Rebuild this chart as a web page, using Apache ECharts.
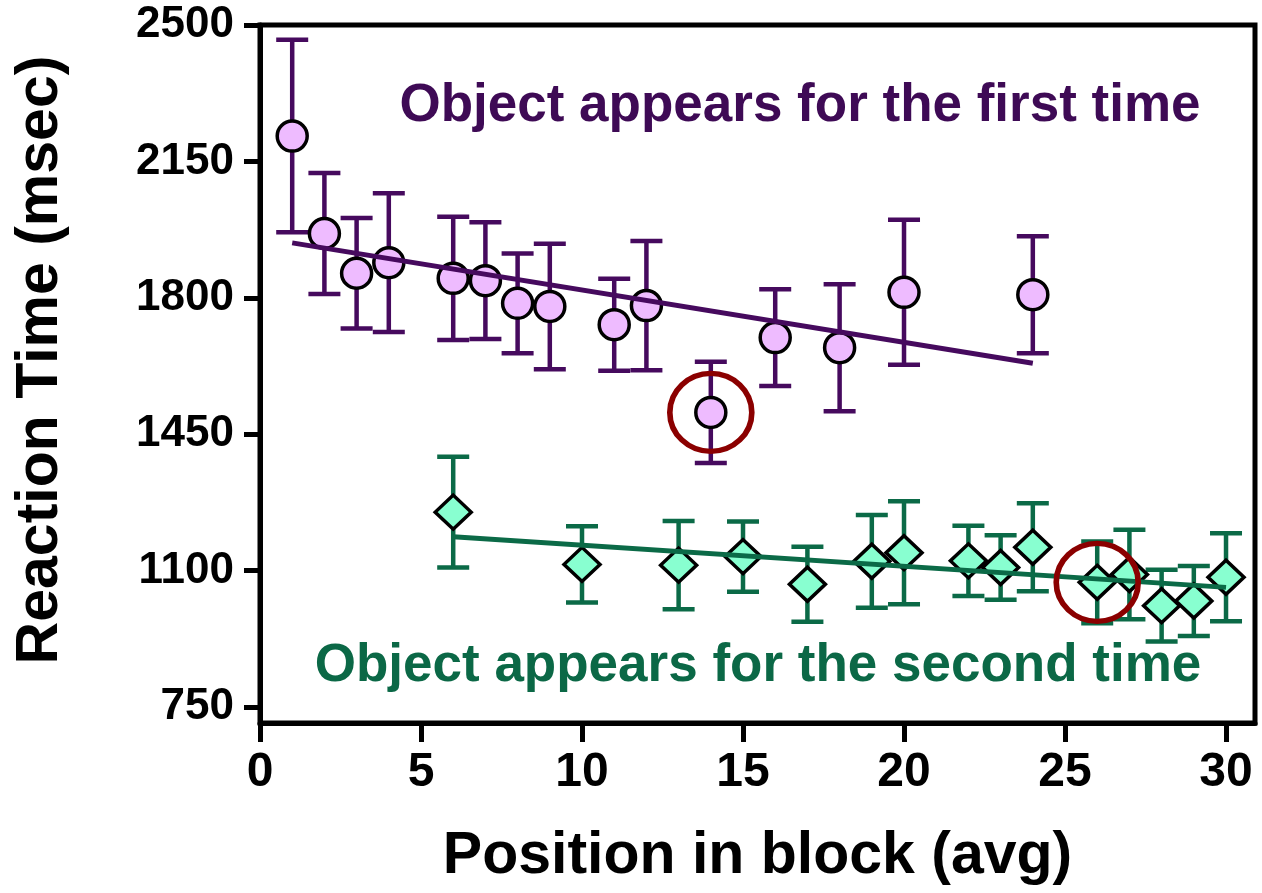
<!DOCTYPE html>
<html><head><meta charset="utf-8">
<script src="https://cdn.jsdelivr.net/npm/echarts@6/dist/echarts.min.js"></script>
<style>html,body{margin:0;padding:0;background:#fff}#c{width:1262px;height:893px}</style>
</head><body><div id="c"></div>
<script>
// First appearance (purple circles)
const firstX    = [1, 2, 3, 4, 6, 7, 8, 9, 11, 12, 14, 16, 18, 20, 24];
const firstMean = [2215, 1965, 1863, 1890, 1850, 1844, 1786, 1778, 1731, 1780, 1506, 1698, 1672, 1814, 1808];
const firstSem  = [247, 155, 142, 178, 158, 150, 128, 161, 118, 166, 130, 124, 163, 186, 150];
const firstTrendX = [1, 24];
const firstTrendY = [1941, 1632];

// Second appearance (green diamonds)
const secondX    = [6, 10, 13, 15, 17, 19, 20, 22, 23, 24, 26, 27, 28, 29, 30];
const secondMean = [1250, 1116, 1114, 1136, 1065, 1124, 1146, 1125, 1108, 1160, 1070, 1090, 1010, 1022, 1083];
const secondSem  = [142, 98, 113, 90, 96, 119, 132, 90, 83, 113, 105, 115, 92, 90, 113];
const secondTrendX = [6, 30];
const secondTrendY = [1187, 1057];

// Highlighted (circled) points
const circledFirstX = [14];
const circledSecondX = [26];

const xTicks = [0, 5, 10, 15, 20, 25, 30];
const yTicks = [750, 1100, 1450, 1800, 2150, 2500];

const labelFirst = 'Object appears for the first time';
const labelSecond = 'Object appears for the second time';
const xName = 'Position in block (avg)';
const yName = 'Reaction Time (msec)';

const FONT = '"Liberation Sans", Arial, Helvetica, sans-serif';
const PURPLE = '#460a5e', PURPLE_FILL = '#eebbff';
const GREEN = '#0b6a47', GREEN_FILL = '#88ffd0';
const RED = '#8b0000';

function pairs(xs, ys) { return xs.map((x, i) => [x, ys[i]]); }
function pick(xs, ys, sel) { return sel.map(s => [s, ys[xs.indexOf(s)]]); }

function errorSeries(xs, means, sems, color) {
  return {
    type: 'custom', z: 1, silent: true,
    data: xs.map((x, i) => [x, means[i] - sems[i], means[i] + sems[i]]),
    encode: { x: 0, y: [1, 2] },
    renderItem(params, api) {
      const x = api.value(0);
      const lo = api.coord([x, api.value(1)]);
      const hi = api.coord([x, api.value(2)]);
      const hw = 16;
      const style = { stroke: color, lineWidth: 4.5 };
      return { type: 'group', children: [
        { type: 'line', shape: { x1: lo[0], y1: lo[1], x2: hi[0], y2: hi[1] }, style },
        { type: 'line', shape: { x1: lo[0] - hw, y1: lo[1], x2: lo[0] + hw, y2: lo[1] }, style },
        { type: 'line', shape: { x1: hi[0] - hw, y1: hi[1], x2: hi[0] + hw, y2: hi[1] }, style }
      ]};
    }
  };
}

const chart = echarts.init(document.getElementById('c'), null, { renderer: 'canvas' });
chart.setOption({
  animation: false,
  backgroundColor: '#fff',
  grid: { left: 260, right: 7, top: 25, bottom: 170, show: true, borderColor: '#000', borderWidth: 5, backgroundColor: 'transparent' },
  xAxis: {
    type: 'value', min: 0, max: 30.9,
    axisLine: { show: true, onZero: false, lineStyle: { color: '#000', width: 5 } },
    axisTick: { show: true, length: 19, lineStyle: { color: '#000', width: 5 }, customValues: xTicks },
    axisLabel: { customValues: xTicks, fontSize: 48, fontWeight: 'bold', color: '#000', fontFamily: FONT, margin: 26,
      formatter: v => String(v) },
    splitLine: { show: false },
    name: xName, nameLocation: 'middle', nameGap: 104,
    nameTextStyle: { fontSize: 59, fontWeight: 'bold', color: '#000', fontFamily: FONT }
  },
  yAxis: {
    type: 'value', min: 709, max: 2500,
    axisLine: { show: true, onZero: false, lineStyle: { color: '#000', width: 5 } },
    axisTick: { show: true, length: 16, lineStyle: { color: '#000', width: 5 }, customValues: yTicks },
    axisLabel: { customValues: yTicks, fontSize: 44, fontWeight: 'bold', color: '#000', fontFamily: FONT, margin: 26,
      formatter: v => String(v) },
    splitLine: { show: false },
    name: yName, nameLocation: 'middle', nameGap: 190,
    nameTextStyle: { fontSize: 59, fontWeight: 'bold', color: '#000', fontFamily: FONT, padding: [0, 0, 0, 28] }
  },
  series: [
    errorSeries(firstX, firstMean, firstSem, PURPLE),
    errorSeries(secondX, secondMean, secondSem, GREEN),
    { type: 'scatter', z: 2, data: pairs(firstX, firstMean), symbol: 'circle', symbolSize: 30,
      itemStyle: { color: PURPLE_FILL, borderColor: '#000', borderWidth: 3.5, opacity: 1 } },
    { type: 'scatter', z: 2, data: pairs(secondX, secondMean), symbol: 'diamond', symbolSize: [36, 34],
      itemStyle: { color: GREEN_FILL, borderColor: '#000', borderWidth: 3.5, opacity: 1 } },
    { type: 'line', z: 3, data: pairs(firstTrendX, firstTrendY), showSymbol: false, symbol: 'none',
      lineStyle: { color: PURPLE, width: 5 } },
    { type: 'line', z: 3, data: pairs(secondTrendX, secondTrendY), showSymbol: false, symbol: 'none',
      lineStyle: { color: GREEN, width: 5 } },
    { type: 'scatter', z: 4, data: pick(firstX, firstMean, circledFirstX).concat(pick(secondX, secondMean, circledSecondX)),
      symbol: 'circle', symbolSize: [82, 78],
      itemStyle: { color: 'rgba(0,0,0,0)', borderColor: RED, borderWidth: 5.5, opacity: 1 } }
  ],
  graphic: [
    { type: 'text', x: 800, y: 106, z: 10,
      style: { text: labelFirst, fill: '#3e0a55', font: 'bold 53px ' + FONT, align: 'center', verticalAlign: 'middle' } },
    { type: 'text', x: 758, y: 666, z: 10,
      style: { text: labelSecond, fill: '#0b6846', font: 'bold 53px ' + FONT, align: 'center', verticalAlign: 'middle' } }
  ]
});
</script>
</body></html>
